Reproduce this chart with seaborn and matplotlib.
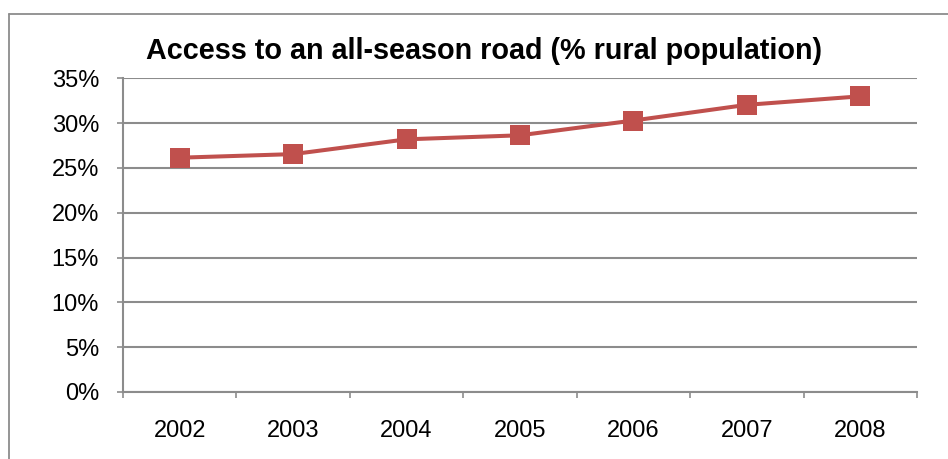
import numpy as np
import pandas as pd
import seaborn as sns
import matplotlib.pyplot as plt
from matplotlib.lines import Line2D
from matplotlib.ticker import FuncFormatter

# values
years = ["2002", "2003", "2004", "2005", "2006", "2007", "2008"]
access_pct = [26.15, 26.55, 28.2, 28.65, 30.3, 32.05, 33.0]

df = pd.DataFrame({"year": years, "access": access_pct})

sns.set_theme(style="white")
plt.rcParams["font.family"] = ["Liberation Sans", "DejaVu Sans"]

fig = plt.figure(figsize=(9.48, 4.59), dpi=100)
ax = fig.add_axes([123 / 948, 1 - 392 / 459, (917 - 123) / 948, (392 - 78.4) / 459])

sns.lineplot(data=df, x="year", y="access", ax=ax, color="#C0504D",
             linewidth=2.9, marker="s", markersize=14.5, markeredgewidth=0,
             sort=False)

grid_col = "#8C8C8C"
ax.set_ylim(0, 35)
ax.set_yticks(np.arange(0, 36, 5))
ax.yaxis.set_major_formatter(FuncFormatter(lambda v, p: f"{v:.0f}%"))
ax.yaxis.grid(True, color=grid_col, linewidth=1.5)
ax.set_axisbelow(True)

ax.set_xlim(-0.5, len(years) - 0.5)
ax.set_xticks(np.arange(-0.5, len(years), 1))
ax.set_xticklabels([])
ax.set_xticks(range(len(years)), minor=True)
ax.set_xticklabels(years, minor=True)

ax.tick_params(axis="y", which="major", length=4.3, width=1.2, color=grid_col,
               direction="out", pad=13, labelsize=17, labelcolor="black", left=True)
ax.tick_params(axis="x", which="major", length=4.3, width=1.2, color=grid_col,
               direction="out", bottom=True)
ax.tick_params(axis="x", which="minor", length=0, pad=20, labelsize=17,
               labelcolor="black")

for s in ["top", "right"]:
    ax.spines[s].set_visible(False)
for s in ["left", "bottom"]:
    ax.spines[s].set_color(grid_col)
    ax.spines[s].set_linewidth(1.5)

ax.set_xlabel("")
ax.set_ylabel("")

fig.text(484.5 / 948, 1 - 51 / 459, "Access to an all-season road (% rural population)",
         ha="center", va="center", fontsize=20.7, fontweight="bold", color="black")

# outer chart border (left and top visible)
bx, by = 8.5 / 948, 1 - 14 / 459
fig.add_artist(Line2D([bx, bx], [0, by], transform=fig.transFigure, color="#8C8C8C", lw=1.3))
fig.add_artist(Line2D([bx, 1], [by, by], transform=fig.transFigure, color="#8C8C8C", lw=1.3))

fig.savefig("out.png", dpi=100)
